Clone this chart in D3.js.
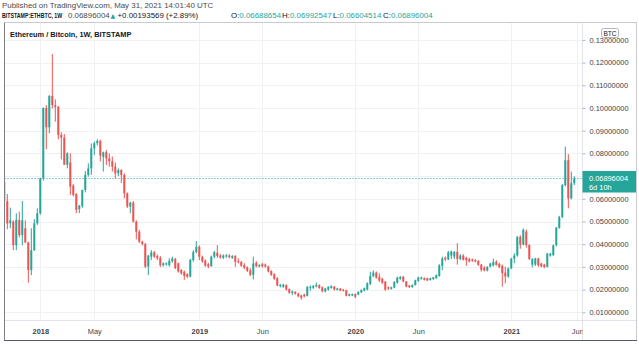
<!DOCTYPE html>
<html><head><meta charset="utf-8">
<script src="https://cdn.jsdelivr.net/npm/d3@7"></script>
<style>
html,body{margin:0;padding:0;background:#fff;}
svg{display:block;font-family:"Liberation Sans",Arial,sans-serif;}
</style></head><body>
<svg id="c" width="639" height="344"></svg>
<script>
// ---------- data (weekly candles, BITSTAMP ETH/BTC) ----------
const firstWeek = "2017-10-09";   // Monday of the first visible weekly bar
const openP = [
.0675,.0590,.0492,.0500,.0396,.0507,.0440,.0470,.0408,.0286,
.0374,.0492,.0536,.0690,.1000,.0915,.1053,.1013,.1005,.0881,
.0870,.0750,.0760,.0658,.0621,.0555,.0568,.0639,.0705,.0734,
.0822,.0845,.0855,.0785,.0805,.0778,.0765,.0742,.0712,.0727,
.0705,.0624,.0566,.0583,.0500,.0455,.0411,.0401,.0301,.0345,
.0364,.0348,.0340,.0308,.0311,.0308,.0325,.0335,.0316,.0286,
.0279,.0268,.0257,.0330,.0365,.0388,.0345,.0328,.0312,.0304,
.0345,.0362,.0350,.0340,.0346,.0351,.0340,.0348,.0325,.0322,
.0308,.0298,.0285,.0265,.0318,.0302,.0312,.0310,.0302,.0282,
.0268,.0250,.0215,.0212,.0220,.0202,.0185,.0190,.0182,.0174,
.0178,.0172,.0208,.0208,.0214,.0220,.0210,.0192,.0200,.0207,
.0213,.0199,.0204,.0200,.0197,.0173,.0174,.0180,.0178,.0188,
.0195,.0200,.0225,.0260,.0275,.0255,.0248,.0235,.0210,.0203,
.0209,.0230,.0247,.0256,.0236,.0218,.0211,.0220,.0238,.0247,
.0250,.0250,.0242,.0246,.0250,.0260,.0305,.0340,.0333,.0350,
.0345,.0366,.0335,.0350,.0340,.0334,.0333,.0330,.0326,.0310,
.0297,.0284,.0301,.0306,.0322,.0313,.0305,.0275,.0258,.0294,
.0336,.0350,.0432,.0398,.0455,.0396,.0310,.0310,.0337,.0315,
.0310,.0300,.0350,.0352,.0396,.0472,.0520,.0660,.0770,.0602,
.06688654];
const highP = [
.0680,.0621,.0561,.0505,.0536,.0543,.0590,.0505,.0411,.0470,
.0510,.0558,.0692,.1003,.1013,.1057,.1238,.1038,.1009,.0893,
.0885,.0805,.0800,.0665,.0625,.0573,.0640,.0722,.0756,.0844,
.0852,.0862,.0860,.0808,.0815,.0800,.0786,.0760,.0734,.0730,
.0712,.0628,.0587,.0590,.0505,.0463,.0415,.0405,.0352,.0374,
.0370,.0355,.0348,.0320,.0320,.0338,.0345,.0340,.0318,.0290,
.0283,.0272,.0335,.0374,.0414,.0395,.0350,.0333,.0318,.0350,
.0370,.0396,.0356,.0355,.0356,.0355,.0352,.0352,.0338,.0326,
.0316,.0302,.0294,.0345,.0325,.0312,.0318,.0315,.0305,.0285,
.0272,.0255,.0225,.0226,.0223,.0205,.0196,.0193,.0185,.0178,
.0182,.0215,.0218,.0220,.0231,.0223,.0214,.0208,.0215,.0219,
.0216,.0208,.0207,.0203,.0199,.0182,.0183,.0183,.0193,.0201,
.0209,.0232,.0279,.0285,.0280,.0272,.0252,.0238,.0214,.0213,
.0237,.0257,.0260,.0260,.0238,.0221,.0223,.0244,.0257,.0257,
.0254,.0252,.0252,.0256,.0266,.0312,.0345,.0346,.0370,.0372,
.0370,.0404,.0356,.0356,.0345,.0340,.0337,.0334,.0330,.0313,
.0303,.0303,.0318,.0337,.0330,.0318,.0310,.0301,.0298,.0340,
.0360,.0436,.0440,.0470,.0465,.0400,.0338,.0340,.0340,.0318,
.0314,.0362,.0362,.0398,.0476,.0525,.0665,.0830,.0797,.0720,
.06992547];
const lowP = [
.0500,.0466,.0470,.0374,.0374,.0430,.0395,.0405,.0231,.0264,
.0370,.0485,.0530,.0680,.0818,.0888,.0998,.0940,.0862,.0774,
.0749,.0734,.0617,.0610,.0537,.0537,.0560,.0628,.0697,.0705,
.0793,.0835,.0765,.0720,.0749,.0741,.0720,.0690,.0700,.0670,
.0602,.0560,.0536,.0495,.0422,.0405,.0395,.0295,.0264,.0330,
.0340,.0330,.0300,.0301,.0305,.0301,.0318,.0290,.0275,.0265,
.0243,.0250,.0254,.0323,.0360,.0330,.0318,.0300,.0294,.0300,
.0338,.0340,.0336,.0335,.0340,.0338,.0335,.0300,.0315,.0300,
.0290,.0278,.0260,.0245,.0298,.0298,.0297,.0296,.0276,.0260,
.0244,.0215,.0210,.0208,.0196,.0182,.0176,.0178,.0167,.0155,
.0166,.0170,.0195,.0203,.0210,.0203,.0188,.0188,.0196,.0204,
.0196,.0196,.0193,.0192,.0170,.0170,.0171,.0162,.0175,.0185,
.0192,.0197,.0220,.0255,.0248,.0233,.0225,.0195,.0198,.0200,
.0206,.0226,.0243,.0232,.0210,.0207,.0208,.0218,.0234,.0244,
.0240,.0238,.0240,.0243,.0248,.0257,.0285,.0325,.0330,.0335,
.0335,.0310,.0330,.0328,.0305,.0320,.0322,.0320,.0305,.0279,
.0280,.0280,.0298,.0302,.0305,.0295,.0213,.0228,.0252,.0290,
.0316,.0345,.0380,.0395,.0385,.0330,.0298,.0304,.0300,.0298,
.0295,.0298,.0345,.0348,.0390,.0468,.0515,.0655,.0558,.0598,
.06604514];
const closeP = [
.0590,.0492,.0505,.0396,.0507,.0440,.0505,.0408,.0286,.0374,
.0492,.0536,.0690,.1000,.0915,.1053,.1013,.1005,.0881,.0870,
.0750,.0800,.0653,.0617,.0551,.0570,.0639,.0705,.0734,.0822,
.0845,.0855,.0790,.0805,.0778,.0765,.0742,.0712,.0727,.0705,
.0624,.0566,.0583,.0500,.0455,.0411,.0401,.0301,.0350,.0364,
.0345,.0338,.0307,.0316,.0316,.0327,.0337,.0295,.0280,.0272,
.0260,.0257,.0332,.0365,.0388,.0345,.0325,.0305,.0302,.0345,
.0365,.0348,.0342,.0350,.0351,.0343,.0348,.0322,.0320,.0305,
.0296,.0282,.0265,.0315,.0303,.0308,.0303,.0302,.0280,.0265,
.0246,.0218,.0220,.0221,.0200,.0186,.0192,.0181,.0170,.0164,
.0170,.0212,.0213,.0216,.0220,.0207,.0192,.0205,.0212,.0215,
.0200,.0205,.0196,.0195,.0173,.0180,.0180,.0168,.0190,.0198,
.0206,.0228,.0260,.0275,.0252,.0240,.0230,.0200,.0205,.0210,
.0234,.0253,.0256,.0236,.0214,.0211,.0220,.0241,.0253,.0253,
.0243,.0240,.0250,.0254,.0264,.0307,.0337,.0333,.0365,.0368,
.0366,.0335,.0350,.0331,.0330,.0324,.0328,.0324,.0309,.0287,
.0284,.0300,.0315,.0322,.0309,.0299,.0273,.0258,.0293,.0336,
.0350,.0432,.0398,.0463,.0396,.0335,.0335,.0337,.0308,.0302,
.0299,.0358,.0358,.0395,.0473,.0520,.0660,.0770,.0602,.0669,
.06896004];

const gridValues  = [0.01,0.02,0.03,0.04,0.05,0.06,0.07,0.08,0.09,0.10,0.11,0.12,0.13];
const priceLabels = [0.01,0.02,0.03,0.04,0.05,0.06,0.08,0.09,0.10,0.11,0.12,0.13]; // 0.07 is hidden under the last-price tag
const xTickDates  = ["2018-01-01","2018-05-07","2019-01-07","2019-06-03","2020-01-06","2020-06-01","2021-01-04","2021-06-07"];
const xTickLabels = ["2018","May","2019","Jun","2020","Jun","2021","Jun"];
const yearLabels  = ["2018","2019","2020","2021"];

const lastPrice = 0.06896004;
const lastPriceText = "0.06896004";
const countdownText = "6d 10h";
const publishedText = "Published on TradingView.com, May 31, 2021 14:01:40 UTC";
const symbolText = "BITSTAMP:ETHBTC, 1W";
const changeText = "+0.00193569 (+2.89%)";
const ohlcLabels = ["O:","H:","L:","C:"];
const ohlcValues = ["0.06688654","0.06992547","0.06604514","0.06896004"];
const titleText = "Ethereum / Bitcoin, 1W, BITSTAMP";
const currency = "BTC";

// ---------- layout ----------
const UP = "#26a69a", DOWN = "#ef5350", TXT = "#131722";
const plotL = 4.5, plotR = 582.5, plotT = 22.5, plotB = 320.5, axisR = 637;

const parse = d3.utcParse("%Y-%m-%d");
const t0 = parse(firstWeek);
const weeks = openP.map((_, i) => d3.utcDay.offset(t0, 7 * i));
const bars = weeks.map((d, i) => ({d, o: openP[i], h: highP[i], l: lowP[i], c: closeP[i]}));

const x = d3.scaleUtc().domain([weeks[0], weeks[weeks.length - 1]]).range([4.3, 574.3]);
const y = d3.scaleLinear().domain([0.01, 0.12]).range([312.3, 62.6]);

const svg = d3.select("#c");

// clip paths
const defs = svg.append("defs");
defs.append("clipPath").attr("id", "plotClip").append("rect")
  .attr("x", plotL + 0.5).attr("y", plotT).attr("width", plotR - plotL - 0.5).attr("height", plotB - plotT);
defs.append("clipPath").attr("id", "timeClip").append("rect")
  .attr("x", plotL).attr("y", 0).attr("width", plotR - plotL).attr("height", 20);

// grid
const grid = svg.append("g").attr("clip-path", "url(#plotClip)");
grid.selectAll("line.h").data(gridValues).join("line")
  .attr("x1", plotL).attr("x2", plotR)
  .attr("y1", d => Math.round(y(d)) + 0.5).attr("y2", d => Math.round(y(d)) + 0.5)
  .attr("stroke", "#f0f1f3").attr("stroke-width", 1);
grid.selectAll("line.v").data(xTickDates).join("line")
  .attr("y1", plotT).attr("y2", plotB)
  .attr("x1", d => Math.round(x(parse(d))) + 0.5).attr("x2", d => Math.round(x(parse(d))) + 0.5)
  .attr("stroke", "#f0f1f3").attr("stroke-width", 1);

// price line (dotted)
grid.append("line")
  .attr("x1", plotL).attr("x2", plotR)
  .attr("y1", Math.round(y(lastPrice)) + 0.5).attr("y2", Math.round(y(lastPrice)) + 0.5)
  .attr("stroke", UP).attr("stroke-width", 1).attr("stroke-dasharray", "1,2");

// candles
const cg = svg.append("g").attr("clip-path", "url(#plotClip)");
const candle = cg.selectAll("g.candle").data(bars).join("g");
candle.append("line")
  .attr("x1", d => x(d.d)).attr("x2", d => x(d.d))
  .attr("y1", d => y(Math.max(d.h, d.o, d.c))).attr("y2", d => y(Math.min(d.l, d.o, d.c)))
  .attr("stroke", d => d.c >= d.o ? UP : DOWN).attr("stroke-width", 1);
candle.append("rect")
  .attr("x", d => x(d.d) - 1).attr("width", 2)
  .attr("y", d => y(Math.max(d.o, d.c)))
  .attr("height", d => Math.max(1, y(Math.min(d.o, d.c)) - y(Math.max(d.o, d.c))))
  .attr("fill", d => d.c >= d.o ? UP : DOWN);

// frame lines
const frame = svg.append("g");
frame.append("line").attr("x1", plotL).attr("x2", axisR).attr("y1", plotT).attr("y2", plotT).attr("stroke", "#c9cbd1");
frame.append("line").attr("x1", plotR).attr("x2", plotR).attr("y1", plotT).attr("y2", 340.5).attr("stroke", "#e0e3eb");
frame.append("line").attr("x1", plotL).attr("x2", axisR).attr("y1", plotB).attr("y2", plotB).attr("stroke", "#e0e3eb");
frame.append("line").attr("x1", axisR - 0.5).attr("x2", axisR - 0.5).attr("y1", plotT).attr("y2", 340.5).attr("stroke", "#c9cbd1");
frame.append("line").attr("x1", plotL).attr("x2", plotL).attr("y1", plotT).attr("y2", 341).attr("stroke", "#7b7e86");
frame.append("line").attr("x1", plotL).attr("x2", axisR).attr("y1", 340.5).attr("y2", 340.5).attr("stroke", "#555a62");

// right price axis
const yAxis = d3.axisRight(y).tickValues(priceLabels).tickFormat(d3.format(".8f")).tickSize(3).tickPadding(4);
const ya = svg.append("g").attr("transform", `translate(${plotR},0)`).call(yAxis);
ya.select(".domain").remove();
ya.selectAll(".tick line").attr("stroke", "#b2b5be");
ya.selectAll(".tick text").attr("fill", "#3d3f45").attr("font-size", 7.4)
  .attr("font-family", "'Liberation Sans',Arial,sans-serif");

// time axis
const xAxis = d3.axisBottom(x).tickValues(xTickDates.map(parse)).tickFormat((d, i) => xTickLabels[i]).tickSize(0).tickPadding(8);
const xa = svg.append("g").attr("transform", `translate(0,${plotB})`).attr("clip-path", "url(#timeClip)");
const xaInner = xa.append("g").call(xAxis);
xaInner.select(".domain").remove();
xaInner.selectAll(".tick text").attr("fill", "#3d3f45").attr("font-size", 7.4)
  .attr("font-family", "'Liberation Sans',Arial,sans-serif")
  .attr("font-weight", (d, i) => yearLabels.includes(xTickLabels[i]) ? "bold" : "normal");

// currency box
const cb = svg.append("g");
cb.append("rect").attr("x", 601.5).attr("y", 28.5).attr("width", 17).attr("height", 9).attr("rx", 2)
  .attr("fill", "#fff").attr("stroke", "#b2b5be");
cb.append("text").attr("x", 610).attr("y", 35.6).attr("text-anchor", "middle")
  .attr("font-size", 6.6).attr("fill", TXT).text(currency);

// last price label
const pl = svg.append("g");
pl.append("rect").attr("x", plotR).attr("y", 171).attr("width", axisR - plotR - 1).attr("height", 21.5).attr("fill", UP);
pl.append("text").attr("x", 589).attr("y", 181.2).attr("font-size", 7.4).attr("fill", "#fff").text(lastPriceText);
pl.append("text").attr("x", 589).attr("y", 190).attr("font-size", 7.4).attr("fill", "#fff").text(countdownText);

// header line 1
svg.append("text").attr("x", 2).attr("y", 8).attr("font-size", 7.9).attr("fill", "#4a4a4a").text(publishedText);

// header line 2
const hy = 18.3;
// symbol in a horizontally condensed bold face
svg.append("text").attr("transform", `translate(2,${hy}) scale(0.7,1)`)
  .attr("font-size", 7.5).attr("font-weight", "bold").attr("fill", TXT).text(symbolText);
const h2 = svg.append("text").attr("y", hy).attr("font-size", 7.9).attr("fill", TXT);
h2.append("tspan").attr("x", 68).attr("fill", "#4a4a4a").text(lastPriceText);
h2.append("tspan").attr("x", 110.5).attr("font-size", 6.2).attr("fill", UP)
  .attr("font-family", "'DejaVu Sans',sans-serif").text("▲");
h2.append("tspan").attr("x", 117.5).text(changeText);
const ohlcX = [231, 282, 333, 383];
ohlcLabels.forEach((lab, i) => {
  h2.append("tspan").attr("x", ohlcX[i]).text(lab);
  h2.append("tspan").attr("fill", UP).text(ohlcValues[i]);
});

// chart title
svg.append("text").attr("x", 10).attr("y", 37).attr("font-size", 7.4).attr("font-weight", 600)
  .attr("fill", TXT).text(titleText);
</script>
</body></html>
